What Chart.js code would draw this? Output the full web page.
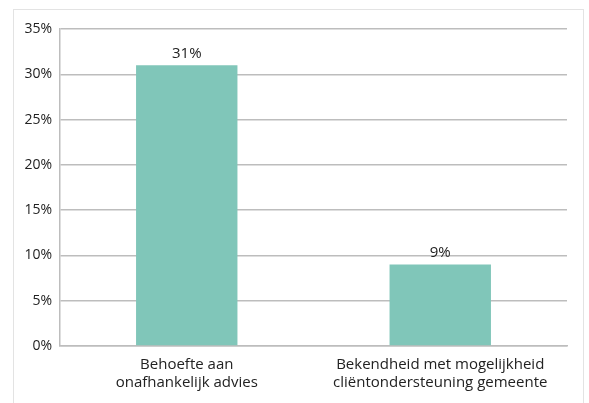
<html>
<head>
<meta charset="UTF-8">
<title>Behoefte aan advies</title>
<style>
  body { margin: 0; background: #fff; }
  #wrap { position: relative; width: 589px; height: 403px; }
  #frame { position: absolute; left: 13px; top: 9px; width: 571px; height: 420px;
           border: 1.5px solid #e3e3e3; box-sizing: border-box; }
  canvas { position: absolute; left: 0; top: 0; }
</style>
</head>
<body>
<div id="wrap">
  <div id="frame"></div>
  <canvas id="myChart" width="589" height="403"></canvas>
</div>

<script src="https://cdn.jsdelivr.net/npm/chart.js@4.4.0/dist/chart.umd.min.js"></script>
<script>
var categories = [
  ['Behoefte aan', 'onafhankelijk advies'],
  ['Bekendheid met mogelijkheid', 'cliëntondersteuning gemeente']
];
var percentages = [31, 9];
var yTicks = [0, 5, 10, 15, 20, 25, 30, 35];

// labels boven de staven
var valueLabels = {
  id: 'valueLabels',
  afterDatasetsDraw: function(chart) {
    var ctx = chart.ctx;
    var meta = chart.getDatasetMeta(0);
    ctx.save();
    ctx.font = '15px "Open Sans"';
    ctx.fillStyle = '#222';
    ctx.textAlign = 'center';
    ctx.textBaseline = 'bottom';
    meta.data.forEach(function(bar, i) {
      ctx.fillText(percentages[i] + '%', bar.x, bar.y - 4);
    });
    ctx.restore();
  }
};

var ctx = document.getElementById('myChart').getContext('2d');
var chart = new Chart(ctx, {
  type: 'bar',
  data: {
    labels: categories,
    datasets: [{
      data: percentages,
      backgroundColor: '#80c6b9',
      barPercentage: 0.5,
      categoryPercentage: 0.8
    }]
  },
  options: {
    responsive: false,
    animation: false,
    layout: { padding: { top: 29, right: 22, left: 0, bottom: 0 } },
    plugins: { legend: { display: false }, tooltip: { enabled: false } },
    scales: {
      x: {
        grid: { display: false },
        border: { color: '#bdbdbd', width: 1.5 },
        ticks: { color: '#222', font: { family: 'Open Sans', size: 15 }, padding: 2, maxRotation: 0 },
        afterFit: function(s) { s.height = 57; }
      },
      y: {
        min: 0,
        max: 35,
        afterBuildTicks: function(s) { s.ticks = yTicks.map(function(v) { return { value: v }; }); },
        grid: { color: '#bdbdbd', lineWidth: 1.5, drawTicks: false },
        border: { color: '#bdbdbd', width: 1.5 },
        ticks: {
          color: '#222',
          font: { family: 'Open Sans', size: 14 },
          padding: 8,
          callback: function(v) { return v + '%'; }
        },
        afterFit: function(s) { s.width = 60; }
      }
    }
  },
  plugins: [valueLabels]
});
</script>
</body>
</html>
